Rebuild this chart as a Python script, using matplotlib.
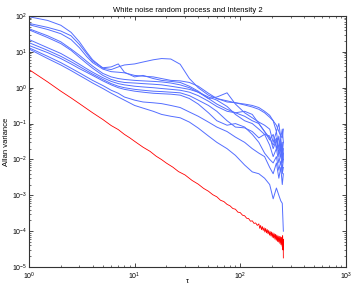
import matplotlib
matplotlib.use('Agg')
import matplotlib.pyplot as plt

plt.rcParams['font.family'] = ['Liberation Sans', 'DejaVu Sans']
plt.rcParams['mathtext.fontset'] = 'custom'
plt.rcParams['mathtext.rm'] = 'Liberation Sans'
plt.rcParams['mathtext.it'] = 'Liberation Sans'

# Blue realisations: Allan variance read at common tau grid
tau_b = [1, 1.5, 2, 2.5, 3, 3.5, 4, 5, 6, 7, 8, 10, 12, 15, 18, 22, 27, 33, 40, 50,
         60, 75, 90, 110, 130, 150, 170, 190, 205, 220, 232, 242, 250, 256]

run_a = [95, 75, 55, 35, 19, 10, 6, 3.5, 3.2, 3.8, 4.3, 4.6, 5.2, 6.0, 6.5, 6.3, 4.5, 1.8, 1.0, 0.62,
         0.5, 0.43, 0.38, 0.33, 0.29, 0.25, 0.2, 0.15, 0.12, 0.09, 0.06, 0.045, 0.04, 0.07]
run_b = [62, 48, 38, 28, 16, 9, 5.5, 3.6, 3.8, 4.6, 2.7, 2.0, 2.2, 1.8, 1.6, 1.5, 1.4, 1.1, 0.8, 0.5,
         0.55, 0.72, 0.35, 0.2, 0.145, 0.11, 0.09, 0.07, 0.03, 0.06, 0.02, 0.04, 0.015, 0.03]
run_c = [57, 42, 32, 22, 13, 7.5, 5, 3.3, 2.8, 2.7, 2.6, 2.2, 2.1, 2.0, 1.8, 1.6, 1.55, 1.4, 1.1, 0.7,
         0.5, 0.4, 0.38, 0.35, 0.32, 0.28, 0.22, 0.17, 0.12, 0.06, 0.1, 0.04, 0.07, 0.03]
run_d = [44, 28, 19, 12, 8, 5.5, 4, 2.5, 2.0, 1.8, 1.7, 1.6, 1.55, 1.5, 1.45, 1.35, 1.2, 1.0, 0.75, 0.5,
         0.35, 0.25, 0.2, 0.16, 0.12, 0.1, 0.06, 0.035, 0.05, 0.02, 0.045, 0.015, 0.03, 0.01]
run_e = [41, 25, 17, 11, 7, 4.8, 3.5, 2.2, 1.7, 1.5, 1.4, 1.35, 1.3, 1.25, 1.2, 1.1, 1.0, 0.9, 0.75, 0.55,
         0.45, 0.3, 0.18, 0.12, 0.1, 0.07, 0.05, 0.045, 0.02, 0.035, 0.012, 0.025, 0.008, 0.015]
run_f = [22, 13, 9, 6.2, 4.5, 3.4, 2.7, 1.9, 1.5, 1.3, 1.2, 1.1, 1.05, 1.0, 0.95, 0.9, 0.85, 0.75, 0.6, 0.42,
         0.3, 0.22, 0.2, 0.22, 0.18, 0.1, 0.06, 0.04, 0.025, 0.04, 0.015, 0.03, 0.01, 0.02]
run_g = [18, 11, 7.5, 5.3, 3.9, 3.0, 2.4, 1.7, 1.3, 1.1, 1.0, 0.9, 0.85, 0.8, 0.78, 0.75, 0.72, 0.6, 0.45, 0.32,
         0.22, 0.12, 0.08, 0.076, 0.06, 0.04, 0.05, 0.025, 0.012, 0.02, 0.008, 0.015, 0.005, 0.01]
run_h = [15, 9.5, 6.5, 4.6, 3.4, 2.7, 2.2, 1.55, 1.2, 1.0, 0.9, 0.8, 0.75, 0.7, 0.68, 0.66, 0.62, 0.5, 0.35, 0.2,
         0.12, 0.09, 0.1, 0.08, 0.05, 0.03, 0.015, 0.01, 0.008, 0.012, 0.005, 0.009, 0.004, 0.006]
run_i = [13, 7.5, 5, 3.5, 2.6, 2.0, 1.6, 1.15, 0.85, 0.7, 0.55, 0.45, 0.4, 0.38, 0.36, 0.32, 0.28, 0.21, 0.16, 0.11,
         0.08, 0.06, 0.042, 0.03, 0.02, 0.015, 0.012, 0.006, 0.004, 0.008, 0.003, 0.006, 0.002, 0.004]
run_j = [12, 6.5, 4.3, 3.0, 2.2, 1.7, 1.35, 0.95, 0.7, 0.55, 0.45, 0.32, 0.27, 0.22, 0.18, 0.16, 0.145, 0.11, 0.075, 0.045,
         0.03, 0.02, 0.013, 0.007, 0.0045, 0.004, 0.003, 0.002, 0.0008, 0.0016, 0.001, 0.0007, 0.0006, 0.0001]

# Red: averaged curve
tau_r = [1, 1.5, 2, 2.5, 3, 4, 5, 6, 7, 8, 9, 10, 12, 14, 16, 18, 20, 23, 26, 30, 35, 40, 45, 50, 55,
         60, 65, 70, 75, 80, 85, 90, 95, 100, 105, 110, 115, 120, 125, 130, 135, 140, 145,
         150, 153, 156, 159, 162, 165, 168, 171, 174, 177, 180, 183, 186, 189, 192, 195, 198, 201,
         204, 207, 210, 213, 216, 219, 222, 225, 228, 231, 234, 237, 240, 243, 246, 249, 252, 254, 255, 256]
avar_r = [3.2, 1.45, 0.80, 0.52, 0.36, 0.2, 0.13, 0.088, 0.068, 0.05, 0.04, 0.032, 0.022, 0.0168, 0.0123,
          0.0099, 0.0079, 0.0061, 0.0046, 0.0037, 0.0026, 0.00205, 0.00156, 0.0013, 0.00104,
          0.00091, 0.00073, 0.00067, 0.00056, 0.00051, 0.00043, 0.00041, 0.00034, 0.00033, 0.00028,
          0.00027, 0.00023, 0.000225, 0.00019, 0.000195, 0.000165, 0.00017, 0.000145,
          1.6e-4, 1.2e-4, 1.45e-4, 1.1e-4, 1.35e-4, 1.05e-4, 1.25e-4, 0.95e-4, 1.2e-4, 0.9e-4,
          1.12e-4, 0.85e-4, 1.05e-4, 0.78e-4, 0.98e-4, 0.74e-4, 0.95e-4, 0.68e-4, 0.9e-4, 0.65e-4,
          0.85e-4, 0.6e-4, 0.82e-4, 0.56e-4, 0.78e-4, 0.52e-4, 0.74e-4, 0.5e-4, 0.72e-4, 0.46e-4,
          0.7e-4, 0.42e-4, 0.68e-4, 0.38e-4, 0.75e-4, 0.3e-4, 0.6e-4, 0.18e-4]

runs = [run_a, run_b, run_c, run_d, run_e, run_f, run_g, run_h, run_i, run_j]

fig = plt.figure(figsize=(3.54, 2.90), dpi=100)
ax = fig.add_axes([0.082, 0.079, 0.895, 0.866])

for r in runs:
    ax.loglog(tau_b, r, color=(0.33, 0.43, 1.0), lw=0.7)
ax.loglog(tau_r, avar_r, color='red', lw=0.6)

ax.set_xlim(1, 1000)
ax.set_ylim(1e-5, 1e2)
ax.tick_params(which='both', direction='in', top=True, right=True, labelsize=5)
ax.tick_params(axis='x', pad=2.5)
ax.tick_params(axis='y', pad=1.5)
ax.tick_params(which='major', length=3, width=0.5)
ax.tick_params(which='minor', length=1.5, width=0.4)
for s in ax.spines.values():
    s.set_linewidth(0.8)
    s.set_color('#333333')

ax.set_title('White noise random process and Intensity 2', fontsize=5.5, pad=3)
ax.set_xlabel('τ', fontsize=5.5)
ax.xaxis.set_label_coords(0.5, -0.045)
ax.set_ylabel('Allan variance', fontsize=5.5, labelpad=1)

fig.savefig('out.png', dpi=100)
